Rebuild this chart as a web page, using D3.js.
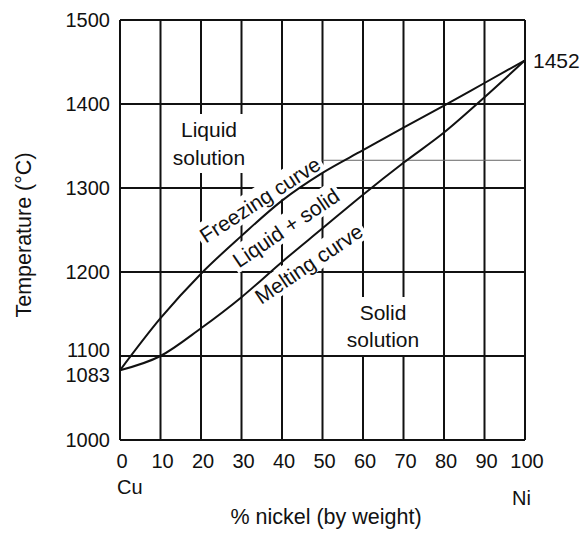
<!DOCTYPE html>
<html>
<head>
<meta charset="utf-8">
<script src="https://cdn.jsdelivr.net/npm/d3@7"></script>
<style>
  html, body { margin: 0; padding: 0; background: #fff; }
  svg text { font-family: "Liberation Sans", Arial, Helvetica, sans-serif; fill: #111; }
</style>
</head>
<body>
<svg id="chart" width="582" height="538"></svg>
<script>
// ---- data ----
const nickel = [0, 10, 20, 30, 40, 50, 60, 70, 80, 90, 100];
const freezingCurve = [1083, 1145, 1198, 1243, 1285, 1318, 1345, 1372, 1398, 1425, 1452];
const meltingCurve  = [1083, 1100, 1133, 1170, 1212, 1252, 1292, 1330, 1366, 1408, 1452];
const xTicks = [0, 10, 20, 30, 40, 50, 60, 70, 80, 90, 100];
const yTicks = [1000, 1100, 1200, 1300, 1400, 1500];
const extraYTick = [1083];
const tieLine = [[50, 1333], [99, 1333]];
const endLabel = "1452";
const xTitle = "% nickel (by weight)";
const yTitle = "Temperature (°C)";
const leftEnd = "Cu", rightEnd = "Ni";

// ---- layout ----
const svg = d3.select("#chart");
const x = d3.scaleLinear().domain([0, 100]).range([120, 525]);
const y = d3.scaleLinear().domain([1000, 1500]).range([440, 20]);

const gGrid = svg.append("g");
const gMask = svg.append("g");
const gLines = svg.append("g");
const gText = svg.append("g");

// grid
gGrid.selectAll("line.v").data(xTicks).join("line")
  .attr("x1", d => x(d)).attr("x2", d => x(d))
  .attr("y1", y(1000)).attr("y2", y(1500))
  .attr("stroke", "#111").attr("stroke-width", 2);
gGrid.selectAll("line.h").data(yTicks).join("line")
  .attr("x1", x(0)).attr("x2", x(100))
  .attr("y1", d => y(d)).attr("y2", d => y(d))
  .attr("stroke", "#111").attr("stroke-width", 2);

// thin tie line
gLines.append("line")
  .attr("x1", x(tieLine[0][0])).attr("x2", x(tieLine[1][0]))
  .attr("y1", y(tieLine[0][1])).attr("y2", y(tieLine[1][1]))
  .attr("stroke", "#666").attr("stroke-width", 1);

// curves
const line = d3.line().x(d => x(d[0])).y(d => y(d[1])).curve(d3.curveMonotoneX);
[freezingCurve, meltingCurve].forEach(vals => {
  gLines.append("path")
    .datum(nickel.map((n, i) => [n, vals[i]]))
    .attr("d", line)
    .attr("fill", "none").attr("stroke", "#111").attr("stroke-width", 2);
});

// y tick labels
gText.selectAll("text.yt").data(yTicks).join("text")
  .attr("x", 110).attr("y", d => y(d))
  .attr("dy", d => d === 1100 ? "0.05em" : "0.35em")
  .attr("text-anchor", "end").attr("font-size", 20).text(d => d);
gText.selectAll("text.ye").data(extraYTick).join("text")
  .attr("x", 110).attr("y", d => y(d))
  .attr("dy", "0.58em")
  .attr("text-anchor", "end").attr("font-size", 20).text(d => d);

// x tick labels
gText.selectAll("text.xt").data(xTicks).join("text")
  .attr("x", d => x(d) + 2).attr("y", 468)
  .attr("text-anchor", "middle").attr("font-size", 20).text(d => d);

gText.append("text").attr("x", 117).attr("y", 494).attr("font-size", 20).text(leftEnd);
gText.append("text").attr("x", 531).attr("y", 505).attr("text-anchor", "end").attr("font-size", 20).text(rightEnd);
gText.append("text").attr("x", 533).attr("y", y(1452)).attr("dy", "0.36em").attr("font-size", 21).text(endLabel);

// axis titles
gText.append("text").attr("x", 326).attr("y", 524).attr("text-anchor", "middle").attr("font-size", 21.5).text(xTitle);
gText.append("text").attr("transform", "translate(31,235) rotate(-90)")
  .attr("text-anchor", "middle").attr("font-size", 21.5).text(yTitle);

// region labels with white masks
function blockLabel(lines, cx, baseY, lh, pad) {
  const g = gText.append("g");
  lines.forEach((t, i) => {
    g.append("text").attr("x", cx).attr("y", baseY + i * lh)
      .attr("text-anchor", "middle").attr("font-size", 21).text(t);
  });
  const b = g.node().getBBox();
  gMask.append("rect").attr("x", b.x - pad[0]).attr("y", b.y - pad[1])
    .attr("width", b.width + 2 * pad[0]).attr("height", b.height + 2 * pad[1]).attr("fill", "#fff");
}
blockLabel(["Liquid", "solution"], 209, 137, 28, [8, 4]);
blockLabel(["Solid", "solution"], 383, 320, 27, [8, 4]);

function rotLabel(t, cx, cy, ang) {
  const g = gText.append("g").attr("transform", `translate(${cx},${cy}) rotate(${ang})`);
  const tx = g.append("text").attr("x", 0).attr("y", 0)
    .attr("text-anchor", "middle").attr("font-size", 21).text(t);
  const b = tx.node().getBBox();
  gMask.append("g").attr("transform", `translate(${cx},${cy}) rotate(${ang})`)
    .append("rect").attr("x", b.x - 3).attr("y", b.y - 2)
    .attr("width", b.width + 6).attr("height", b.height + 2).attr("fill", "#fff");
}
rotLabel("Freezing curve", 264, 206, -33);
rotLabel("Liquid + solid", 290, 234, -34);
rotLabel("Melting curve", 313, 270, -34);
</script>
</body>
</html>
